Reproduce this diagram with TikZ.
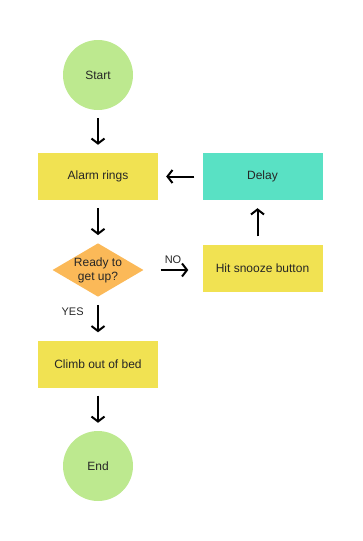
\documentclass[tikz,border=0pt]{standalone}
\usepackage{fontspec}
\setmainfont{Liberation Sans}
\usetikzlibrary{shapes.geometric,arrows.meta}
\definecolor{termgreen}{RGB}{189,233,143}
\definecolor{stepyellow}{RGB}{241,226,82}
\definecolor{delayteal}{RGB}{89,225,196}
\definecolor{askorange}{RGB}{251,185,88}
\begin{document}
\begin{tikzpicture}[x=1pt,y=-1pt,
  every node/.style={font=\fontsize{12}{14}\selectfont,text=black!85},
  term/.style={circle,fill=termgreen,minimum size=70pt,inner sep=0pt},
  stepbox/.style={rectangle,fill=stepyellow,minimum width=120pt,minimum height=47pt,inner sep=0pt},
  ask/.style={diamond,fill=askorange,minimum width=91pt,minimum height=53pt,inner sep=0pt,aspect=1.7,align=center},
  flow/.style={-{Straight Barb[length=5pt,width=13pt]},line width=2pt,shorten <=8pt,shorten >=8pt},
  tag/.style={font=\fontsize{11}{12}\selectfont}]
\useasboundingbox (0,0) rectangle (363,541);
% Main column
\node[term] (start) at (98,75) {Start};
\node[stepbox] (alarm) at (98,176.5) {Alarm rings};
\node[ask] (ready) at (98,270) {Ready to\\get up?};
\node[stepbox] (climb) at (98,364) {Climb out of bed};
\node[term] (end) at (98,466) {End};
% Snooze loop
\node[stepbox] (snooze) at (262.5,268) {Hit snooze button};
\node[stepbox,fill=delayteal] (delay) at (262.5,176.5) {Delay};
% Arrows
\draw[flow] (start) -- (alarm);
\draw[flow] (alarm) -- (ready);
\draw[flow] (ready) -- (climb) node[tag,pos=0.33,left=10pt] {YES};
\draw[flow] (climb) -- (end);
\draw[flow,shorten <=17pt,shorten >=14pt] (ready.east) -- (ready.east -| snooze.west) node[tag,pos=0.5,above=2pt] {NO};
\draw[flow] ([xshift=-5pt]snooze.north) -- ([xshift=-5pt]snooze.north |- delay.south);
\draw[flow] (delay) -- (alarm);
\end{tikzpicture}
\end{document}
